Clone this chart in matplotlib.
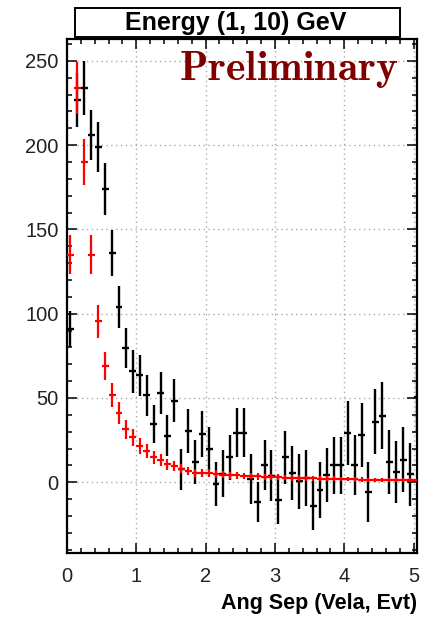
import numpy as np
import matplotlib
matplotlib.use("Agg")
import matplotlib.pyplot as plt
from matplotlib.patches import Rectangle
from matplotlib.ticker import MultipleLocator

# angular separation bins (deg), width 0.1
bin_centres = [0.05, 0.15, 0.25, 0.35, 0.45, 0.55, 0.65, 0.75, 0.85, 0.95,
               1.05, 1.15, 1.25, 1.35, 1.45, 1.55, 1.65, 1.75, 1.85, 1.95,
               2.05, 2.15, 2.25, 2.35, 2.45, 2.55, 2.65, 2.75, 2.85, 2.95,
               3.05, 3.15, 3.25, 3.35, 3.45, 3.55, 3.65, 3.75, 3.85, 3.95,
               4.05, 4.15, 4.25, 4.35, 4.45, 4.55, 4.65, 4.75, 4.85, 4.95,
               5.05]
bin_half_width = 0.05

# data (black)
counts = [91, 227, 234, 206, 199, 174, 136, 104, 79.5, 65.7,
          63.5, 51.5, 34.5, 53, 27.6, 48.4, 7.7, 30.6, 12, 28.6,
          20, -1, 5, 14.7, 29.4, 29.4, 1.8, -11.7, 10, 3.8,
          -10.5, 14.7, 5.4, 0.5, 2.5, -14, -4.6, 4.2, 10, 10,
          29.2, 10, 28, -5.8, 35.9, 39.5, 12, 6.1, 13.3, 4.8,
          50.4]
counts_err = [10.5, 16, 16, 15, 15, 15.5, 13.5, 12.5, 12, 12.5,
              12.2, 12.2, 11.5, 12.3, 12.2, 12.8, 12.3, 13, 13, 13.8,
              12.5, 13, 14, 13.5, 14.5, 14.5, 15, 12, 14.8, 15.2,
              14.5, 15.8, 16, 16.5, 16.4, 14.5, 16.4, 16, 17, 17,
              18.7, 17.8, 19, 17.7, 19.4, 19.7, 19, 18.4, 19.4, 18.7,
              20.4]

# model (red)
model = [135, 234, 190, 135, 95.6, 69, 51.8, 41, 31.5, 26.6,
         21.6, 18.6, 14.7, 13, 10.7, 9.7, 8.1, 6.7, 5.7, 5.7,
         5.4, 4.8, 4.5, 4.2, 4.0, 3.8, 3.6, 3.4, 3.2, 3.1,
         2.9, 2.8, 2.6, 2.5, 2.4, 2.3, 2.2, 2.1, 2.0, 1.9,
         1.8, 1.7, 1.6, 1.5, 1.5, 1.4, 1.3, 1.3, 1.2, 1.2,
         1.1]
model_err = [11.6, 15.3, 13.8, 11.6, 9.8, 8.3, 7.2, 6.4, 5.6, 5.2,
             4.6, 4.3, 3.8, 3.6, 3.3, 3.1, 2.8, 2.6, 2.4, 2.4,
             2.3, 2.2, 2.1, 2.0, 2.0, 1.9, 1.9, 1.8, 1.8, 1.8,
             1.7, 1.7, 1.6, 1.6, 1.5, 1.5, 1.5, 1.4, 1.4, 1.4,
             1.3, 1.3, 1.3, 1.2, 1.2, 1.2, 1.1, 1.1, 1.1, 1.1,
             1.0]

title_txt = "Energy (1, 10) GeV"
xlabel_txt = "Ang Sep (Vela, Evt)"

plt.rcParams['font.family'] = ['Liberation Sans', 'DejaVu Sans']
plt.rcParams['mathtext.fontset'] = 'cm'

fig = plt.figure(figsize=(4.21, 6.18), dpi=100)
ax = fig.add_axes([67/421, 1 - 553/618, 350/421, 514/618])

# black points first, red model drawn on top
ax.errorbar(bin_centres, counts, yerr=counts_err, xerr=bin_half_width,
            fmt='none', ecolor='black', elinewidth=1.7, capsize=0, zorder=3)
ax.errorbar(bin_centres, model, yerr=model_err, xerr=bin_half_width,
            fmt='none', ecolor='#ff0000', elinewidth=1.6, capsize=0, zorder=4)

ax.set_xlim(0, 5.05)
ax.set_ylim(-42, 263)

ax.xaxis.set_major_locator(MultipleLocator(1))
ax.xaxis.set_minor_locator(MultipleLocator(0.2))
ax.yaxis.set_major_locator(MultipleLocator(50))
ax.yaxis.set_minor_locator(MultipleLocator(10))
ax.tick_params(which='both', direction='in', top=True, right=True,
               width=1.1, colors='black', labelcolor='#222222', labelsize=14.5)
ax.tick_params(which='major', length=7)
ax.tick_params(axis='x', which='major', pad=10)
ax.tick_params(axis='y', which='major', pad=6)
ax.tick_params(which='minor', length=3.5)
ax.grid(True, which='major', color='#aaaaaa', linestyle=(0, (1, 2.5)), linewidth=1)
for s in ax.spines.values():
    s.set_linewidth(1.6)

# title box
fig.patches.append(Rectangle((75/421, 1 - 37/618), 325/421, 29/618,
                             transform=fig.transFigure, facecolor='white',
                             edgecolor='black', linewidth=1.4))
fig.text(236/421, 1 - 23/618, title_txt, ha='center', va='center',
         fontsize=18, fontweight='bold')

fig.text(417/421, 1 - 609/618, xlabel_txt, ha='right', va='baseline',
         fontsize=15.5, fontweight='bold')

ax.text(331/350, 1 - 41/514, r'$\mathbf{Preliminary}$', transform=ax.transAxes,
        ha='right', va='baseline', fontsize=30, color='#800000', zorder=5)

fig.savefig('out.png', dpi=100)
